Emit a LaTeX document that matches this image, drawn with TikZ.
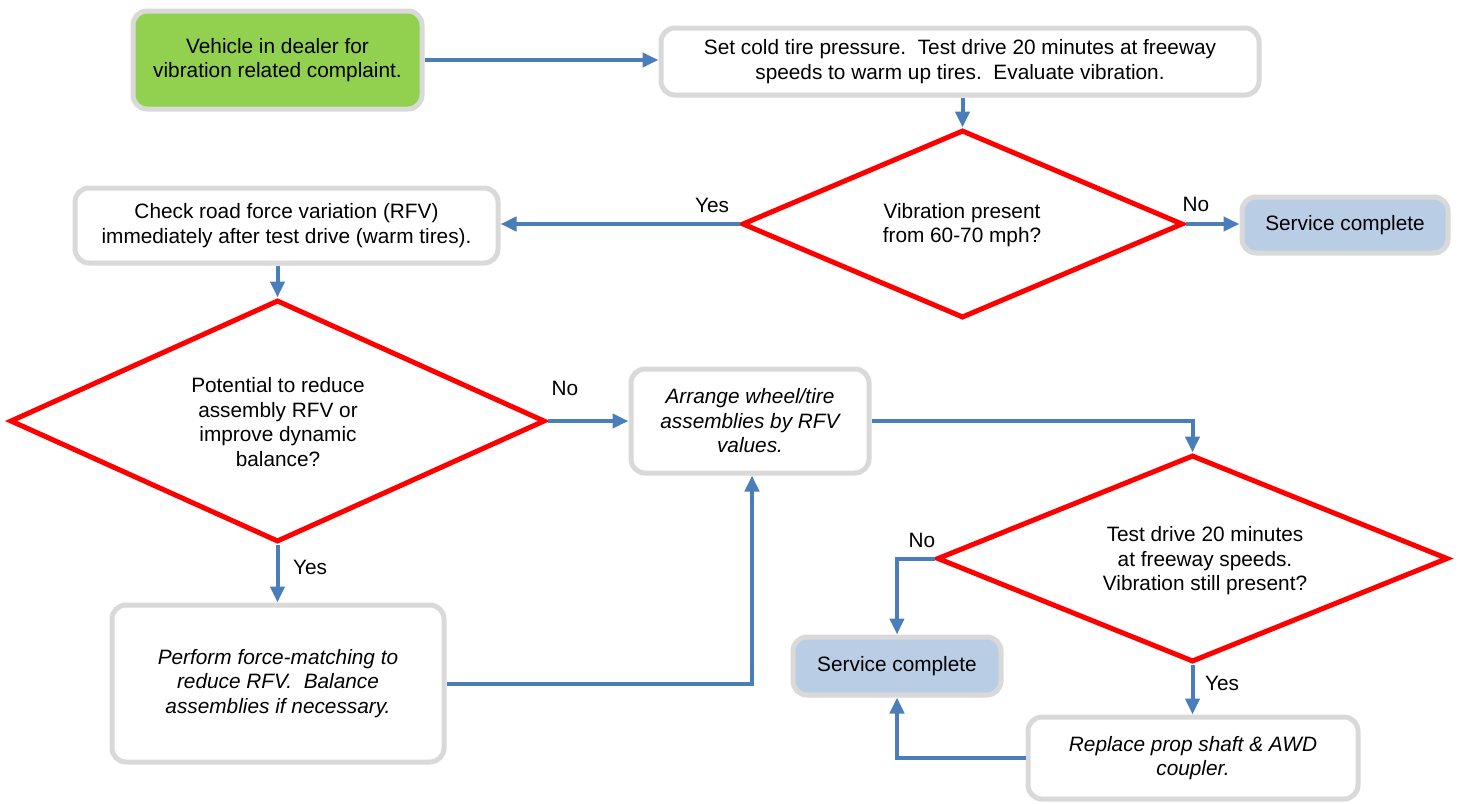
\documentclass[tikz,border=0pt]{standalone}
\usepackage{fontspec}
\setmainfont{Liberation Sans}
\usetikzlibrary{shapes.geometric,arrows.meta,calc}
\definecolor{boxgray}{HTML}{D9D9D9}
\definecolor{flowblue}{HTML}{4A7EBB}
\definecolor{startgreen}{HTML}{92D050}
\definecolor{endblue}{HTML}{B9CDE5}
\definecolor{decred}{HTML}{FF0000}
\tikzset{
  every node/.style={font=\fontsize{20.8}{24.5}\selectfont, inner sep=0pt},
  procbox/.style={draw=boxgray, line width=5pt, rounded corners=14pt, fill=white, align=center},
  startbox/.style={procbox, fill=startgreen},
  endbox/.style={procbox, fill=endblue},
  decision/.style={diamond, draw=decred, line width=5pt, line join=miter, inner sep=0pt},
  dtext/.style={align=center},
  flow/.style={draw=flowblue, line width=4pt, -{Triangle[length=16pt,width=14pt]}},
  lbl/.style={}
}
\begin{document}
\begin{tikzpicture}[x=1pt,y=-1pt]
\useasboundingbox (0,0) rectangle (1458,803);
% boxes
\node[startbox, minimum width=289pt, minimum height=98pt] (start) at (277.5,60) {Vehicle in dealer for\\vibration related complaint.};
\node[procbox, minimum width=598pt, minimum height=67pt] (setp) at (960,61.5) {Set cold tire pressure.\ \ Test drive 20 minutes at freeway\\speeds to warm up tires.\ \ Evaluate vibration.};
\node[endbox, minimum width=206pt, minimum height=56pt] (svc1) at (1345,225) {Service complete};
\node[procbox, minimum width=423pt, minimum height=75pt] (check) at (286.5,225.5) {Check road force variation (RFV)\\immediately after test drive (warm tires).};
\node[procbox, minimum width=238pt, minimum height=104pt] (arrange) at (750,421) {\itshape Arrange wheel/tire\\\itshape assemblies by RFV\\\itshape values.};
\node[procbox, minimum width=332pt, minimum height=157pt] (perform) at (278,683.5) {\itshape Perform force-matching to\\\itshape reduce RFV.\ \ Balance\\\itshape assemblies if necessary.};
\node[endbox, minimum width=208pt, minimum height=58pt] (svc2) at (897,666) {Service complete};
\node[procbox, minimum width=330pt, minimum height=82pt] (replace) at (1193,758) {\itshape Replace prop shaft \& AWD\\\itshape coupler.};
% decisions
\node[decision, minimum width=441pt, minimum height=188pt] (d1) at (962.5,224) {};
\node[dtext] (d1t) at (962,225) {Vibration present\\from 60-70 mph?};
\node[decision, minimum width=535pt, minimum height=242pt] (d2) at (277.5,421) {};
\node[dtext] (d2t) at (278,422) {Potential to reduce\\assembly RFV or\\improve dynamic\\balance?};
\node[decision, minimum width=511pt, minimum height=207pt] (d3) at (1192.5,558.5) {};
\node[dtext] (d3t) at (1205,561) {Test drive 20 minutes\\at freeway speeds.\\Vibration still present?};
% connectors
\draw[flow] (start.east) -- (start.east -| setp.west);
\draw[flow] (setp.south -| d1.north) -- (d1.north);
\draw[flow] (d1.west) -- (d1.west -| check.east);
\draw[flow] (d1.east) -- (d1.east -| svc1.west);
\draw[flow] (check.south -| d2.north) -- (d2.north);
\draw[flow] (d2.east) -- (d2.east -| arrange.west);
\draw[flow] (d2.south) -- (d2.south |- perform.north);
\draw[flow] (perform.east) -| ([xshift=2pt]arrange.south);
\draw[flow] (arrange.east) -| (d3.north);
\draw[flow] (d3.west) -| (svc2.north);
\draw[flow] (d3.south) -- (d3.south |- replace.north);
\draw[flow] (replace.west) -| (svc2.south);
% labels
\node[lbl] (ly1) at (712,205) {Yes};
\node[lbl] (ln1) at (1196,204) {No};
\node[lbl] (ln2) at (565,388) {No};
\node[lbl] (ly2) at (310,567) {Yes};
\node[lbl] (ln3) at (922,540) {No};
\node[lbl] (ly3) at (1222,683) {Yes};
\end{tikzpicture}
\end{document}
